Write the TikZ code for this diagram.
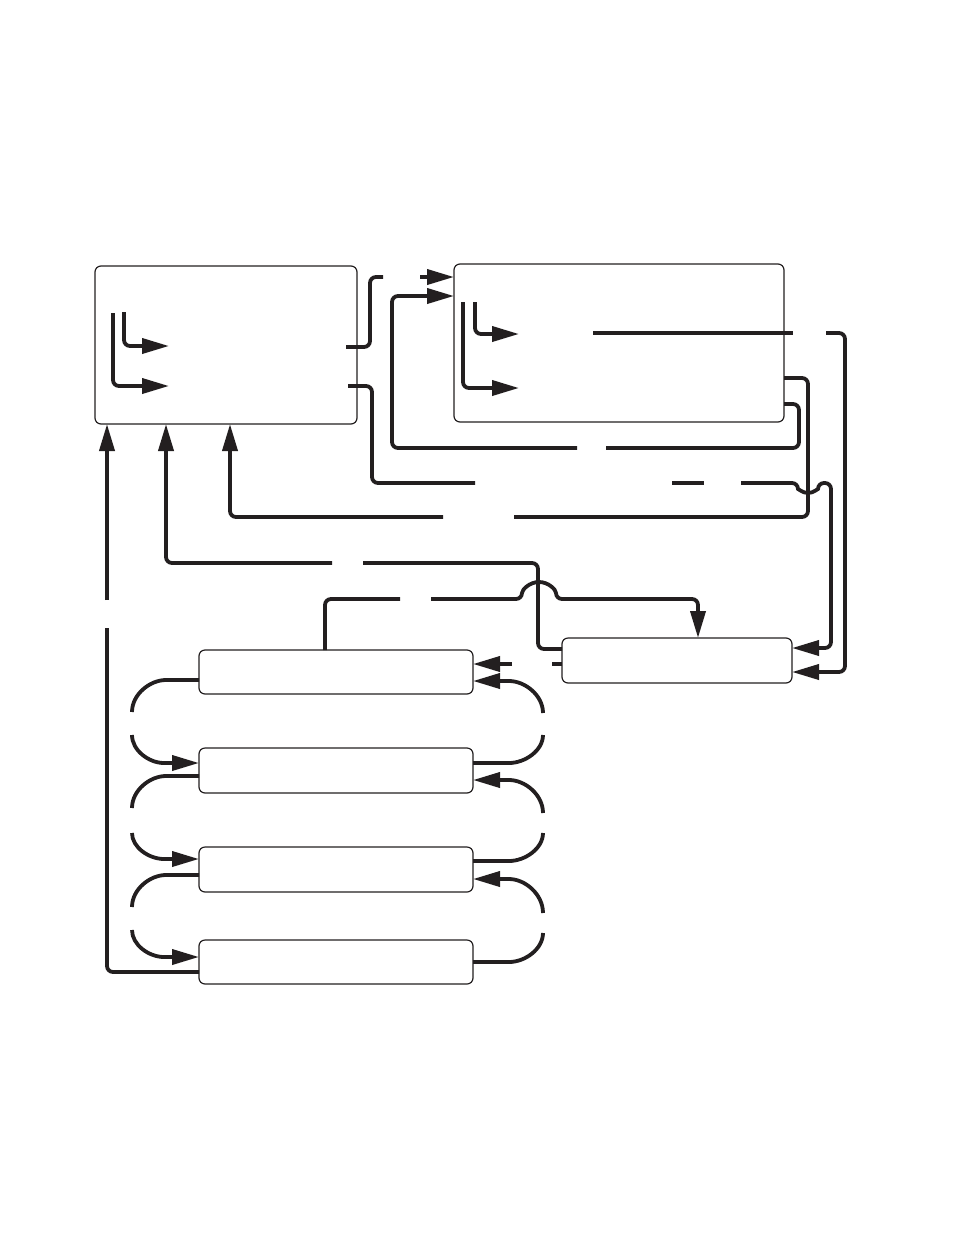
\documentclass[tikz,border=0pt]{standalone}
\usetikzlibrary{arrows.meta}
\definecolor{ink}{RGB}{35,31,32}
\begin{document}
\begin{tikzpicture}[x=1pt,y=1pt,
  box/.style={draw=ink,line width=1.2pt,rounded corners=6pt,inner sep=0pt,outer sep=0pt,anchor=north west,fill=white},
  wire/.style={draw=ink,line width=3.8pt,rounded corners=6pt},
  arr/.style={wire,-{Triangle[length=27pt,width=15pt]}},
  looparc/.style={draw=ink,line width=3.4pt}]
\useasboundingbox (0,0) rectangle (954,-1235);
% boxes
\node[box,minimum width=262pt,minimum height=158pt] (A) at (95,-266) {};
\node[box,minimum width=330pt,minimum height=158pt] (B) at (454,-264) {};
\node[box,minimum width=230pt,minimum height=45pt] (C) at (562,-638) {};
\node[box,minimum width=274pt,minimum height=44pt] (D1) at (199,-650) {};
\node[box,minimum width=274pt,minimum height=45pt] (D2) at (199,-748) {};
\node[box,minimum width=274pt,minimum height=45pt] (D3) at (199,-847) {};
\node[box,minimum width=274pt,minimum height=44pt] (D4) at (199,-940) {};
% free-end coordinates
\coordinate (a1) at (124,-312); \coordinate (a1e) at (169,-346);
\coordinate (a2) at (113,-313); \coordinate (a2e) at (169,-386);
\coordinate (b1) at (475,-302); \coordinate (b1e) at (519,-334);
\coordinate (b2) at (463,-302); \coordinate (b2e) at (519,-388);
\coordinate (aout1) at (346,-347);
\coordinate (aout2) at (348,-386);
\coordinate (bin) at (593,-333);
% inner arrows of A and B
\draw[arr] (a1) |- (a1e);
\draw[arr] (a2) |- (a2e);
\draw[arr] (b1) |- (b1e);
\draw[arr] (b2) |- (b2e);
% connector A -> B (top)
\draw[wire] (aout1) -- (370,-347) -- (370,-277) -- (383,-277);
\draw[arr] (420,-277) -- (B.west |- 0,-277);
% connector B -> B (loop back)
\draw[wire] (B.east |- 0,-404) -- (799,-404) -- (799,-448) -- (606,-448);
\draw[arr] (577,-448) -- (392,-448) -- (392,-296) -- (B.west |- 0,-296);
% connector B -> A
\draw[wire] (B.east |- 0,-378) -- (808,-378) -- (808,-517) -- (514,-517);
\draw[arr] (443,-517) -- (230,-517) -- (A.south -| 230,0);
% connector A -> C (with hop)
\draw[wire] (aout2) -- (372,-386) -- (372,-483) -- (475,-483);
\draw[wire] (672,-483) -- (704,-483);
\draw[arr] (741,-483) -- (798,-483) arc[start angle=180,end angle=360,radius=10] -- (831,-483) -- (831,-648) -- (C.east |- 0,-648);
% connector C -> A
\draw[wire] (C.west |- 0,-649) -- (538,-649) -- (538,-563) -- (363,-563);
\draw[arr] (332,-563) -- (166,-563) -- (A.south -| 166,0);
% connector D1 -> C (with hop)
\draw[wire] (D1.north -| 325,0) -- (325,-599) -- (400,-599);
\draw[arr] (431,-599) -- (522,-599) arc[start angle=180,end angle=0,radius=17] -- (698,-599) -- (C.north -| 698,0);
% connector C -> D1
\draw[wire] (C.west |- 0,-664) -- (552,-664);
\draw[arr] (512,-664) -- (D1.east |- 0,-664);
% connector B inner -> C
\draw[wire] (bin) -- (793,-333);
\draw[arr] (826,-333) -- (845,-333) -- (845,-672) -- (C.east |- 0,-672);
% connector D4 -> A
\draw[wire] (D4.west |- 0,-972) -- (107,-972) -- (107,-628);
\draw[arr] (107,-600) -- (A.south -| 107,0);
% left loops
\draw[wire] (D1.west |- 0,-680) -- (172,-680) arc[start angle=90,end angle=180,x radius=40,y radius=32];
\draw[arr] (132,-735) arc[start angle=180,end angle=270,x radius=38,y radius=28] -- (D2.west |- 0,-763);
\draw[wire] (D2.west |- 0,-776) -- (172,-776) arc[start angle=90,end angle=180,x radius=40,y radius=32];
\draw[arr] (132,-833) arc[start angle=180,end angle=270,x radius=38,y radius=26] -- (D3.west |- 0,-859);
\draw[wire] (D3.west |- 0,-875) -- (172,-875) arc[start angle=90,end angle=180,x radius=40,y radius=32];
\draw[arr] (132,-930) arc[start angle=180,end angle=270,x radius=38,y radius=27] -- (D4.west |- 0,-957);
% right loops
\draw[wire] (D2.east |- 0,-763) -- (503,-763) arc[start angle=270,end angle=360,x radius=40,y radius=28];
\draw[arr] (543,-713) arc[start angle=0,end angle=90,x radius=40,y radius=32] -- (D1.east |- 0,-681);
\draw[wire] (D3.east |- 0,-861) -- (503,-861) arc[start angle=270,end angle=360,x radius=40,y radius=28];
\draw[arr] (543,-813) arc[start angle=0,end angle=90,x radius=40,y radius=33] -- (D2.east |- 0,-780);
\draw[wire] (D4.east |- 0,-962) -- (503,-962) arc[start angle=270,end angle=360,x radius=40,y radius=29];
\draw[arr] (543,-913) arc[start angle=0,end angle=90,x radius=40,y radius=34] -- (D3.east |- 0,-879);
\end{tikzpicture}
\end{document}
